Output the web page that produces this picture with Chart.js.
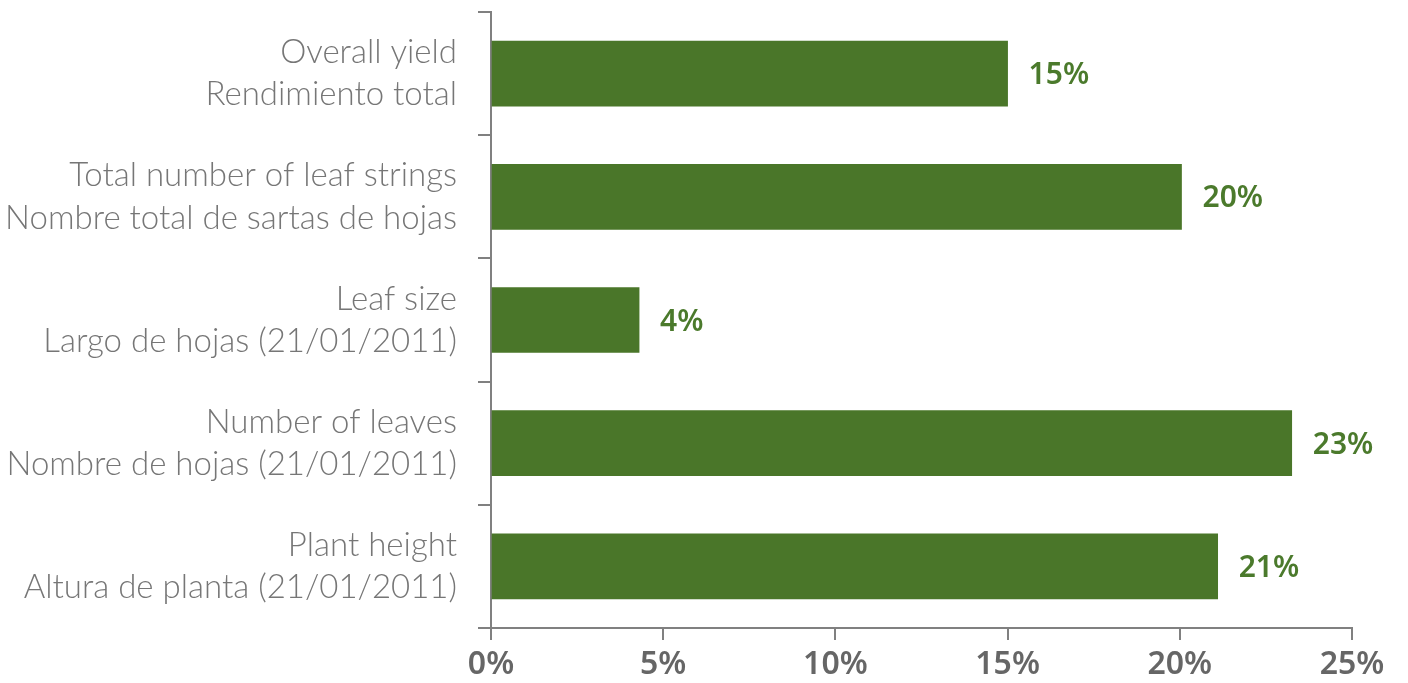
<!DOCTYPE html>
<html>
<head>
<meta charset="utf-8">
<script src="https://cdn.jsdelivr.net/npm/chart.js@4"></script>
<style>
  body { margin: 0; background: #fff; }
  #wrap { width: 1408px; height: 683px; }
</style>
</head>
<body>
<div id="wrap"><canvas id="myChart" width="1408" height="683"></canvas></div>
<script>
// categories (English / Spanish, two lines each)
const categories = [
    ['Overall yield', 'Rendimiento total'],
    ['Total number of leaf strings', 'Nombre total de sartas de hojas'],
    ['Leaf size', 'Largo de hojas (21/01/2011)'],
    ['Number of leaves', 'Nombre de hojas (21/01/2011)'],
    ['Plant height', 'Altura de planta (21/01/2011)']
];
// increase in %
const values = [15.0, 20.05, 4.3, 23.25, 21.1];
const valueLabels = ['15%', '20%', '4%', '23%', '21%'];
const xTicks = [0, 5, 10, 15, 20, 25];

const barColor = '#4a7629';
const axisColor = '#808080';

// draws the % next to the end of each bar
const barValues = {
    id: 'barValues',
    afterDatasetsDraw(chart) {
        const ctx = chart.ctx;
        const meta = chart.getDatasetMeta(0);
        ctx.save();
        ctx.font = '600 30px "Noto Sans"';
        ctx.fillStyle = '#4b7a2c';
        ctx.textAlign = 'left';
        ctx.textBaseline = 'middle';
        meta.data.forEach((bar, i) => {
            ctx.fillText(valueLabels[i], bar.x + 21, bar.y + 2);
        });
        ctx.restore();
    }
};

const ctx = document.getElementById('myChart').getContext('2d');
const chart = new Chart(ctx, {
    type: 'bar',
    data: {
        labels: categories,
        datasets: [{
            data: values,
            backgroundColor: barColor,
            barThickness: 65
        }]
    },
    options: {
        indexAxis: 'y',
        responsive: false,
        animation: false,
        layout: { padding: { top: 12, right: 56, left: 0, bottom: 0 } },
        plugins: {
            legend: { display: false },
            tooltip: { enabled: false }
        },
        scales: {
            x: {
                min: 0,
                max: 25,
                afterBuildTicks(scale) {
                    scale.ticks = xTicks.map(v => ({ value: v }));
                },
                afterFit(scale) {
                    scale.height = 55;
                    scale.paddingLeft = 0;
                    scale.paddingRight = 0;
                },
                border: { color: axisColor, width: 2 },
                grid: {
                    drawOnChartArea: false,
                    color: axisColor,
                    lineWidth: 2,
                    tickLength: 12
                },
                ticks: {
                    padding: 6,
                    color: '#666666',
                    font: { family: 'Noto Sans', size: 32, weight: '600' },
                    callback: v => v + '%'
                }
            },
            y: {
                afterFit(scale) {
                    scale.width = 491;
                    scale.paddingTop = 0;
                    scale.paddingBottom = 0;
                },
                border: { color: axisColor, width: 2 },
                grid: {
                    drawOnChartArea: false,
                    color: axisColor,
                    lineWidth: 2,
                    tickLength: 13
                },
                ticks: {
                    padding: 21,
                    color: '#767676',
                    font: { family: 'Lato', size: 33, weight: '300', lineHeight: 1.28 }
                }
            }
        }
    },
    plugins: [barValues]
});
</script>
</body>
</html>
